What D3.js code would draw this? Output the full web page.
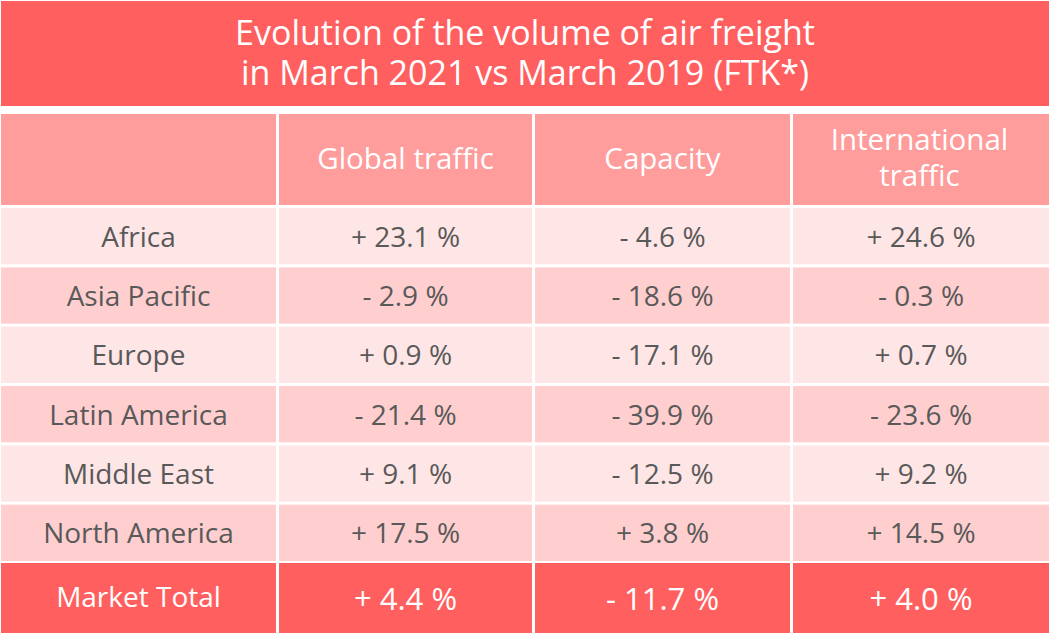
<!DOCTYPE html>
<html><head><meta charset="utf-8">
<script src="https://cdn.jsdelivr.net/npm/d3@7"></script>
<style>body{margin:0;background:#fff}svg{display:block}text{font-family:"Open Sans",sans-serif}</style>
</head><body><svg id="c" width="1056" height="640"></svg>
<script>
const titleLines = ["Evolution of the volume of air freight", "in March 2021 vs March 2019 (FTK*)"];
const columns = [["Global traffic"], ["Capacity"], ["International", "traffic"]];
const regions = ["Africa", "Asia Pacific", "Europe", "Latin America", "Middle East", "North America"];
const globalTraffic = [23.1, -2.9, 0.9, -21.4, 9.1, 17.5];
const capacity = [-4.6, -18.6, -17.1, -39.9, -12.5, 3.8];
const internationalTraffic = [24.6, -0.3, 0.7, -23.6, 9.2, 14.5];
const totalLabel = "Market Total";
const totals = [4.4, -11.7, 4.0];

const series = [globalTraffic, capacity, internationalTraffic];
const fmt = v => (v < 0 ? "- " : "+ ") + Math.abs(v).toFixed(1) + " %";

const svg = d3.select("#c");
const rowY = d3.scaleLinear().domain([0, 6]).range([206, 562]);
const colX = [1, 279, 535, 793, 1049];

// title
svg.append("rect").attr("x", 1).attr("y", 1).attr("width", 1048).attr("height", 105).attr("fill", "#ff5f5f");
titleLines.forEach((d, i) => {
  svg.append("text").attr("x", 525).attr("y", 45 + i * 40).attr("text-anchor", "middle")
    .attr("fill", "#fff").attr("font-size", 34).text(d);
});

// header
for (let c = 0; c < 4; c++) {
  svg.append("rect").attr("x", colX[c]).attr("y", 114)
    .attr("width", colX[c + 1] - colX[c] - (c < 3 ? 3 : 0)).attr("height", 91).attr("fill", "#ff9c9c");
}
columns.forEach((lines, i) => {
  const cx = (colX[i + 1] + colX[i + 2] - 3) / 2;
  const y0 = lines.length === 1 ? 169 : 150;
  lines.forEach((d, k) => {
    svg.append("text").attr("text-anchor", "middle").attr("fill", "#fff").attr("font-size", 29.5)
      .attr("x", cx).attr("y", y0 + k * 36).text(d);
  });
});

// body rows
regions.forEach((r, ri) => {
  const y0 = rowY(ri) + 2, y1 = rowY(ri + 1) - 1;
  const fill = ri % 2 === 0 ? "#ffe6e6" : "#ffcfcf";
  for (let c = 0; c < 4; c++) {
    svg.append("rect").attr("x", colX[c]).attr("y", y0)
      .attr("width", colX[c + 1] - colX[c] - (c < 3 ? 3 : 0)).attr("height", y1 - y0).attr("fill", fill);
  }
  const ty = (y0 + y1) / 2 + 10.5;
  const vals = [r].concat(series.map(s => fmt(s[ri])));
  vals.forEach((v, c) => {
    svg.append("text").attr("x", (colX[c] + colX[c + 1] - (c < 3 ? 3 : 0)) / 2).attr("y", ty)
      .attr("text-anchor", "middle").attr("fill", "#595959").attr("font-size", 28).text(v);
  });
});

// total row
{
  const y0 = 563, y1 = 633;
  for (let c = 0; c < 4; c++) {
    svg.append("rect").attr("x", colX[c]).attr("y", y0)
      .attr("width", colX[c + 1] - colX[c] - (c < 3 ? 3 : 0)).attr("height", y1 - y0).attr("fill", "#ff5f5f");
  }
  const vals = [totalLabel].concat(totals.map(fmt));
  vals.forEach((v, c) => {
    svg.append("text").attr("x", (colX[c] + colX[c + 1] - (c < 3 ? 3 : 0)) / 2).attr("y", c === 0 ? 607 : 610)
      .attr("text-anchor", "middle").attr("fill", "#fff").attr("font-size", c === 0 ? 28 : 31).text(v);
  });
}
</script></body></html>
